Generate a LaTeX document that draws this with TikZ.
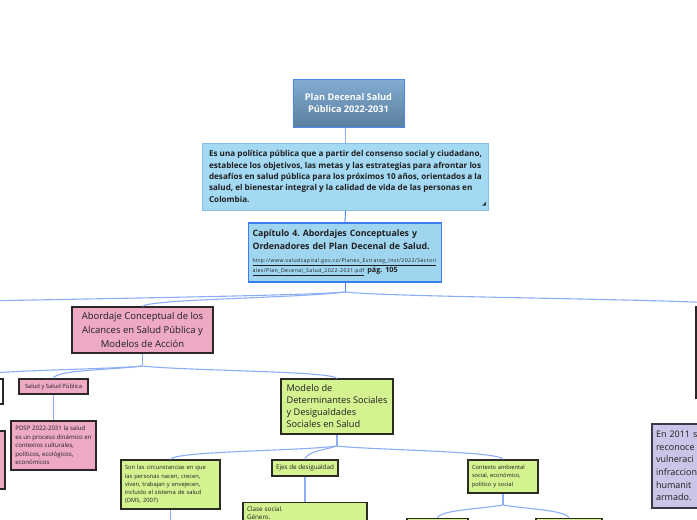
\documentclass[tikz,border=0pt]{standalone}
\usepackage{fontspec}
\setmainfont{Open Sans}
\frenchspacing
\definecolor{tTop}{HTML}{82ADD2}
\definecolor{tBot}{HTML}{5A7E9E}
\definecolor{tBorder}{HTML}{4C86E8}
\definecolor{descF}{HTML}{A3D9F3}
\definecolor{descB}{HTML}{86BDE6}
\definecolor{chapF}{HTML}{A0D5F0}
\definecolor{chapB}{HTML}{3C7DF0}
\definecolor{pinkF}{HTML}{EEA9C4}
\definecolor{pinkB}{HTML}{2E2528}
\definecolor{greenF}{HTML}{D3F290}
\definecolor{greenB}{HTML}{2B2B22}
\definecolor{lavF}{HTML}{CCC5E8}
\definecolor{lavB}{HTML}{393949}
\definecolor{connC}{HTML}{8CAEF6}
\definecolor{darkC}{HTML}{4C83EE}
\definecolor{txt}{HTML}{1E1E1E}
\begin{document}
\begin{tikzpicture}[x=1pt,y=-1pt,
  box/.style={draw, line width=1.3pt, inner xsep=4pt, inner ysep=3pt, align=left, text=txt},
  pinkbox/.style={box, fill=pinkF, draw=pinkB},
  greenbox/.style={box, fill=greenF, draw=greenB},
  lavbox/.style={box, fill=lavF, draw=lavB},
  conn/.style={draw=connC, line width=1.1pt},
  darkconn/.style={draw=darkC, line width=0.9pt}]
\path[use as bounding box] (0,0) rectangle (697,520);
\clip (0,0) rectangle (697,520);

% top chain
\node[draw=tBorder, line width=1pt, top color=tTop, bottom color=tBot, minimum width=111pt, minimum height=48pt, text=white, align=center, font=\bfseries\fontsize{9.2}{12.5}\selectfont] (title) at (348.5,103) {Plan Decenal Salud\\Pública 2022-2031};

\node[box, draw=descB, line width=1pt, fill=descF, minimum width=286pt, minimum height=67pt, inner xsep=2pt, font=\bfseries\fontsize{8.1}{11.3}\selectfont] (desc) at (345.5,176.5) {Es una política pública que a partir del consenso social y ciudadano,\\establece los objetivos, las metas y las estrategias para afrontar los\\desafíos en salud pública para los próximos 10 años, orientados a la\\salud, el bienestar integral y la calidad de vida de las personas en\\Colombia.};
\fill[black!75] (desc.south east) ++(-3,-5) -- ++(0,-4) -- ++(-4,4) -- cycle;

\node[box, draw=chapB, fill=chapF, minimum width=193pt, minimum height=59pt, text width=185pt, font=\bfseries\fontsize{8.8}{13}\selectfont] (chap) at (345,252.5) {Capítulo 4. Abordajes Conceptuales y\\Ordenadores del Plan Decenal de Salud.\\{\mdseries\fontsize{5.2}{6}\selectfont\addfontfeature{LetterSpace=8}\underline{http://www.saludcapital.gov.co/Planes\_Estrateg\_Inst/2022/Sectori}}\\[-3pt]{\mdseries\fontsize{5.2}{6}\selectfont\addfontfeature{LetterSpace=8}\underline{ales/Plan\_Decenal\_Salud\_2022-2031.pdf}} {\fontsize{7.2}{9}\selectfont pág. 105}};

\draw[conn, line width=0.8pt] (title.south -| desc.north) -- (desc.north);
\draw[darkconn] (desc.south) -- (chap.north);

% level 1
\coordinate (s0) at (345,292);
\coordinate (offL) at (-60,302);
\node[pinkbox, minimum width=141pt, minimum height=46pt, inner xsep=2pt, align=center, font=\fontsize{9.5}{14.3}\selectfont] (pink) at (142.5,330) {Abordaje Conceptual de los\\Alcances en Salud Pública y\\Modelos de Acción};
\node[box, fill=white, draw=pinkB, minimum width=104pt, minimum height=91pt] (rightbox) at (748,352.5) {};

\draw[darkconn] (chap.south) -- (s0);
\draw[conn] (s0) .. controls (300,296) and (60,299) .. (offL);
\draw[conn] (s0) .. controls (300,298) and (150,299) .. (pink.north);
\draw[conn] (s0) .. controls (400,298) and (740,299) .. (rightbox.north);

% level 2
\coordinate (s1) at (142.5,366);
\node[box, fill=white, draw=pinkB, minimum width=83pt, minimum height=25pt] (leftA) at (-38.5,391.5) {};
\node[pinkbox, minimum width=65pt, minimum height=58pt] (leftB) at (-27.5,460) {};
\node[pinkbox, font=\fontsize{5.8}{8}\selectfont, minimum width=69pt, minimum height=15pt, inner ysep=1pt, align=center] (salud) at (53.5,386.5) {Salud y Salud Pública};
\node[pinkbox, font=\fontsize{6.1}{8.4}\selectfont, minimum width=85pt, minimum height=49pt, inner xsep=1pt] (pdsp) at (53.5,445.5) {PDSP 2022-2031 la salud\\es un proceso dinámico en\\contextos culturales,\\políticos, ecológicos,\\económicos};
\node[greenbox, minimum width=112pt, minimum height=55pt, inner xsep=1pt, font=\fontsize{9.2}{12}\selectfont] (modelo) at (337,406.5) {Modelo de\\Determinantes Sociales\\y Desigualdades\\Sociales en Salud};

\draw[conn] (pink.south) -- (s1);
\draw[conn] (s1) .. controls (100,370) and (-30,370) .. (leftA.north);
\draw[conn] (s1) .. controls (110,370) and (55,370) .. (salud.north);
\draw[conn] (s1) .. controls (190,371) and (330,371) .. (modelo.north);
\draw[conn] (salud.south) -- (pdsp.north);

% level 3
\coordinate (s2) at (337,446);
\node[greenbox, font=\fontsize{5.8}{8.2}\selectfont, minimum width=99pt, minimum height=49pt, text width=91pt] (sonlas) at (170.5,484.5) {Son las circunstancias en que\\las personas nacen, crecen,\\viven, trabajan y envejecen,\\incluido el sistema de salud\\(OMS, 2007)};
\node[greenbox, font=\fontsize{6.3}{8}\selectfont, minimum width=66pt, minimum height=16pt, inner ysep=1pt, align=center] (ejes) at (305,468) {Ejes de desigualdad};
\node[greenbox, font=\fontsize{5.7}{8.2}\selectfont, minimum width=70pt, minimum height=33pt, text width=62pt] (contexto) at (503,476.5) {Contexto ambiental\\social, económico,\\político y social};
\node[greenbox, font=\fontsize{6.3}{8.2}\selectfont, anchor=north, minimum width=124pt, text width=116pt, inner ysep=4pt] (clase) at (305,502) {Clase social.\\Género.};
\coordinate (sonEnd) at (170.5,530);

\draw[conn] (modelo.south) -- (s2);
\draw[conn] (s2) .. controls (300,451) and (175,451) .. (sonlas.north);
\draw[conn] (s2) .. controls (325,450) and (307,451) .. (ejes.north);
\draw[conn] (s2) .. controls (370,450) and (500,451) .. (contexto.north);
\draw[conn] (ejes.south) -- (clase.north);
\draw[conn] (sonlas.south) -- (sonEnd);

% level 4
\coordinate (s3) at (503,505);
\node[greenbox, anchor=north, minimum width=61pt, minimum height=20pt] (bot1) at (437.5,518) {};
\node[greenbox, anchor=north, minimum width=66pt, minimum height=20pt] (bot2) at (569,518) {};
\draw[conn] (contexto.south) -- (s3);
\draw[conn] (s3) .. controls (480,509) and (440,510) .. (bot1.north);
\draw[conn] (s3) .. controls (526,509) and (566,510) .. (bot2.north);

% right lavender box (cut by the right edge)
\node[lavbox, minimum width=140pt, minimum height=84pt, text width=132pt, font=\fontsize{9}{12.6}\selectfont] (en2011) at (722,466) {En 2011 s\\reconoce\\vulneraci\\infraccion\\humanit\\armado.};
\end{tikzpicture}
\end{document}
